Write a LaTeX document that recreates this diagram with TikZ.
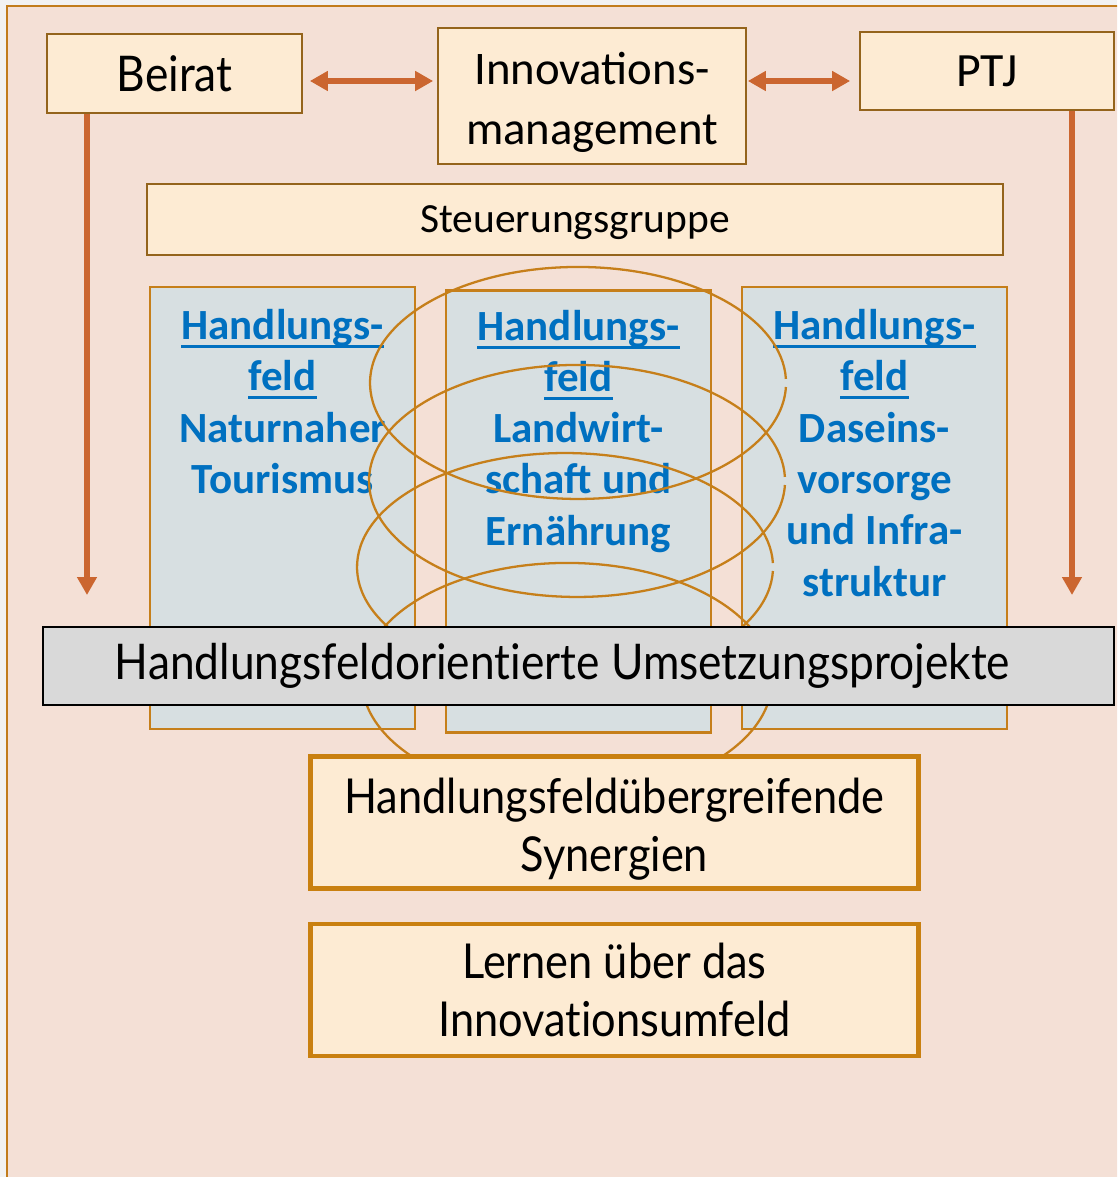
\documentclass[tikz,border=0pt]{standalone}
\usepackage{fontspec}
\usetikzlibrary{arrows.meta,calc}
\newfontfamily\gillfont[FakeStretch=0.9,Ligatures=NoCommon]{Lato}
\newfontfamily\califont{Carlito}
\definecolor{pagegray}{HTML}{F2F2F2}
\definecolor{framefill}{HTML}{F4E0D6}
\definecolor{frameedge}{HTML}{C27C1C}
\definecolor{cream}{HTML}{FDEBD3}
\definecolor{topedge}{HTML}{94641C}
\definecolor{fieldblue}{HTML}{D7DFE1}
\definecolor{fieldedge}{HTML}{C67F1A}
\definecolor{linkblue}{HTML}{0070C0}
\definecolor{arrowred}{HTML}{CB6630}
\definecolor{barfill}{HTML}{D9D9D9}
\definecolor{resultedge}{HTML}{C98010}
\newcommand\ulink[1]{\setbox0\hbox{#1}\rlap{\rule[-0.2em]{\wd0}{0.07em}}\box0}

\begin{document}
\begin{tikzpicture}[x=0.02cm, y=-0.02cm,
    head_box/.style={draw=topedge, fill=cream, line width=1pt, inner sep=0pt, align=center, font=\califont\fontsize{26.6}{34}\selectfont},
    field_box/.style={draw=fieldedge, fill=fieldblue, line width=1.2pt, minimum width=5.3cm, minimum height=8.84cm},
    field_text/.style={anchor=north, inner sep=0pt, align=center, text=linkblue, font=\califont\bfseries\fontsize{24.5}{29.2}\selectfont},
    result_box/.style={draw=resultedge, fill=cream, line width=2.8pt, minimum width=12.16cm, minimum height=2.64cm, align=center, font=\gillfont\fontsize{27.4}{33}\selectfont},
    link_arrow/.style={draw=arrowred, line width=3.2pt, -{Triangle[width=0.38cm,length=0.36cm]}},
    both_arrow/.style={draw=arrowred, line width=3.2pt, {Triangle[width=0.38cm,length=0.36cm]}-{Triangle[width=0.38cm,length=0.36cm]}},
    ring/.style={draw=fieldedge, line width=1.3pt}
]

% Hintergrund und Rahmen
\fill[pagegray] (0,0) rectangle (1117,1177);
\useasboundingbox (0,0) rectangle (1117,1177);
\begin{scope}
  \clip (0,0) rectangle (1117,1177);
  \draw[draw=frameedge, fill=framefill, line width=1.2pt] (7,6) rectangle (1140,1200);
\end{scope}

% Obere Ebene
\node[head_box, minimum width=5.10cm, minimum height=1.58cm, font=\gillfont\fontsize{28}{33}\selectfont] (beirat) at (174.5,73.5) {Beirat};
\node[head_box, minimum width=6.16cm, minimum height=2.72cm] (innov) at (592,96) {\rule{0pt}{0.97em}Innovations-\\management};
\node[head_box, minimum width=5.08cm, minimum height=1.56cm, font=\califont\fontsize{27.2}{34}\selectfont] (ptj) at (987,71) {PTJ};
\node[head_box, minimum width=17.12cm, minimum height=1.42cm, text height=20pt, text depth=5pt, font=\califont\fontsize{23.6}{28}\selectfont] (steuer) at (575,219.5) {Steuerungsgruppe};

% Pfeile
\path ([shift={(7,7.5)}]beirat.east) coordinate (bl);
\draw[both_arrow] (bl) -- ($(bl -| innov.west)+(-4,0)$);
\path ([shift={(1,-15)}]innov.east) coordinate (pl);
\draw[both_arrow] (pl) -- ($(pl -| ptj.west)+(-9,0)$);
\coordinate (bend) at (87,595);
\draw[link_arrow] (beirat.south -| bend) -- (bend);
\coordinate (pend) at (1072,595);
\draw[link_arrow] (ptj.south -| pend) -- (pend);

% Handlungsfelder
\node[field_box] (hf1) at (282.5,508) {};
\node[field_box] (hf2) at (578.5,511.5) {};
\node[field_box] (hf3) at (874.5,508) {};
\node[field_text] (t1) at ([shift={(0,23)}]hf1.north) {\ulink{Handlungs-}\\\ulink{feld}\\Naturnaher\\Tourismus};
\node[field_text] (t2) at ([shift={(0,20)}]hf2.north) {\ulink{Handlungs-}\\\ulink{feld}\\Landwirt-\\schaft und\\Ernährung};
\node[field_text] (t3) at ([shift={(0,23)}]hf3.north) {\ulink{Handlungs-}\\\ulink{feld}\\Daseins-\\vorsorge\\und Infra-\\struktur};

% Verbindende Ringe
\draw[ring] (785.9,387) arc[start angle=2, end angle=358, x radius=208, y radius=116];
\draw[ring] (784.9,485) arc[start angle=2, end angle=358, x radius=208, y radius=116];
\draw[ring] (772.9,571) arc[start angle=2, end angle=358, x radius=208, y radius=114];
\draw[ring] (771.9,684) arc[start angle=2, end angle=358, x radius=205, y radius=117];

% Untere Ebene
\node[draw=black, fill=barfill, line width=1pt, minimum width=21.42cm, minimum height=1.56cm, font=\gillfont\fontsize{28}{33}\selectfont] (umsetz) at (578.5,666) {Handlungsfeldorientierte Umsetzungsprojekte\hspace*{0.64cm}};
\node[result_box] (syn) at (614.5,822.5) {\rule{0pt}{1.0em}Handlungsfeldübergreifende\\Synergien};
\node[result_box] (lernen) at (614.5,990) {Lernen über das\\Innovationsumfeld};

\end{tikzpicture}
\end{document}
